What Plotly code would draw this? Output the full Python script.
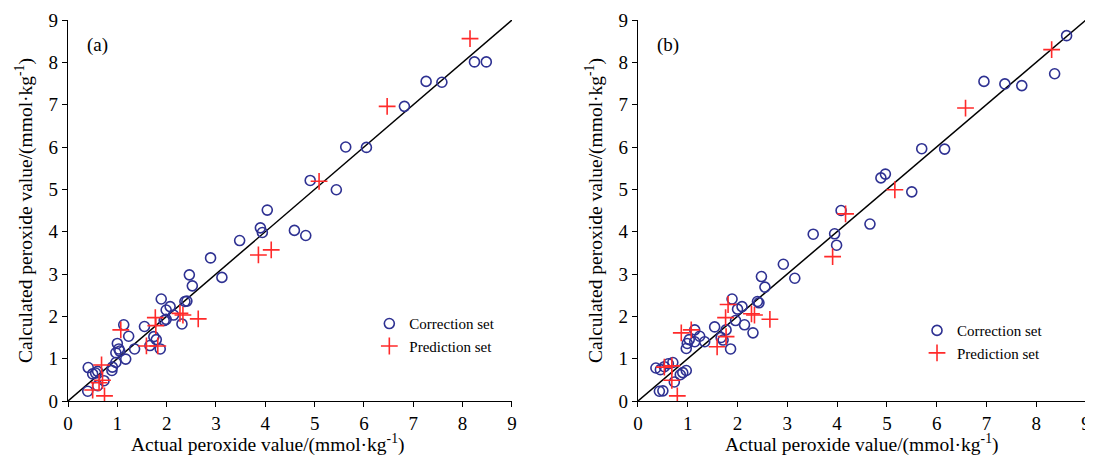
import plotly.graph_objects as go

# ---------------- Panel (a) ----------------
a_corr_x = [0.41, 0.50, 0.56, 0.60, 0.40, 0.60, 0.73, 0.89, 0.90, 0.97, 1.17, 0.97, 1.00, 1.03, 1.05,
            1.13, 1.23, 1.35, 1.55, 1.66, 1.74, 1.79, 1.87, 1.89, 1.99, 2.07, 1.95, 1.99, 2.14, 2.31,
            2.37, 2.41, 2.46, 2.52, 2.89, 3.12, 3.48, 3.90, 3.94, 4.04, 4.59, 4.82, 4.91, 5.44, 5.63,
            6.05, 6.82, 7.26, 7.58, 8.24, 8.48]
a_corr_y = [0.79, 0.64, 0.66, 0.70, 0.23, 0.36, 0.48, 0.72, 0.80, 0.91, 0.99, 1.14, 1.36, 1.23, 1.18,
            1.80, 1.53, 1.23, 1.76, 1.31, 1.52, 1.45, 1.23, 2.41, 2.15, 2.23, 1.90, 1.93, 2.03, 1.82,
            2.35, 2.36, 2.98, 2.72, 3.38, 2.92, 3.79, 4.09, 3.98, 4.51, 4.03, 3.91, 5.21, 4.99, 6.00,
            5.99, 6.96, 7.55, 7.53, 8.01, 8.01]
a_pred_x = [0.50, 0.63, 0.68, 0.70, 0.74, 1.07, 1.59, 1.77, 1.78, 1.82, 2.27, 2.33, 2.64, 3.86, 4.12,
            5.09, 6.47, 8.15]
a_pred_y = [0.26, 0.43, 0.85, 0.49, 0.12, 1.68, 1.30, 1.97, 1.78, 1.30, 2.07, 2.03, 1.94, 3.45, 3.57,
            5.19, 6.96, 8.56]

# ---------------- Panel (b) ----------------
b_corr_x = [0.36, 0.45, 0.53, 0.61, 0.70, 0.43, 0.50, 0.73, 0.85, 0.90, 0.97, 0.97, 0.99, 1.03, 1.14,
            1.14, 1.24, 1.34, 1.54, 1.67, 1.71, 1.77, 1.86, 1.89, 2.00, 2.09, 1.96, 2.14, 2.31, 2.40,
            2.43, 2.48, 2.55, 2.92, 3.15, 3.52, 3.95, 3.99, 4.08, 4.66, 4.88, 4.97, 5.50, 5.70, 6.16,
            6.95, 7.37, 7.71, 8.37, 8.61]
b_corr_y = [0.78, 0.74, 0.81, 0.88, 0.91, 0.23, 0.24, 0.45, 0.62, 0.67, 0.72, 1.24, 1.36, 1.45, 1.68,
            1.40, 1.53, 1.40, 1.75, 1.50, 1.44, 1.68, 1.23, 2.41, 2.17, 2.23, 1.90, 1.80, 1.61, 2.35,
            2.32, 2.94, 2.69, 3.23, 2.90, 3.94, 3.95, 3.68, 4.50, 4.18, 5.27, 5.36, 4.94, 5.96, 5.95,
            7.55, 7.49, 7.45, 7.73, 8.63]
b_pred_x = [0.53, 0.68, 0.68, 0.79, 0.87, 1.07, 1.59, 1.76, 1.77, 1.81, 2.28, 2.34, 2.65, 3.91, 4.17,
            5.16, 6.58, 8.31]
b_pred_y = [0.80, 0.83, 0.49, 0.12, 1.61, 1.68, 1.28, 1.97, 1.52, 2.28, 2.06, 2.03, 1.93, 3.41, 4.42,
            4.99, 6.92, 8.30]

diag = [0, 9]
tick_vals = list(range(0, 10))
tick_text = [str(v) for v in tick_vals]
panel_labels = ["(a)", "(b)"]
corr_name = "Correction set"
pred_name = "Prediction set"
x_title = "Actual peroxide value/(mmol·kg<sup>-1</sup>)"
y_title = "Calculated peroxide value/(mmol·kg<sup>-1</sup>)"

BLUE = "#2E3192"
RED = "#FF2A2A"
FONT = "Liberation Serif"

fig = go.Figure()

panels = [
    ("x", "y", "legend", a_corr_x, a_corr_y, a_pred_x, a_pred_y),
    ("x2", "y2", "legend2", b_corr_x, b_corr_y, b_pred_x, b_pred_y),
]
for xa, ya, lg, cx, cy, px, py in panels:
    fig.add_trace(go.Scatter(x=diag, y=diag, mode="lines", xaxis=xa, yaxis=ya,
                             line=dict(color="black", width=1.5), showlegend=False,
                             hoverinfo="skip"))
    fig.add_trace(go.Scatter(x=cx, y=cy, mode="markers", name=corr_name, xaxis=xa, yaxis=ya,
                             legend=lg,
                             marker=dict(symbol="circle-open", size=10, color=BLUE,
                                         line=dict(color=BLUE, width=1.6))))
    fig.add_trace(go.Scatter(x=px, y=py, mode="markers", name=pred_name, xaxis=xa, yaxis=ya,
                             legend=lg,
                             marker=dict(symbol="cross-thin-open", size=12, color=RED,
                                         line=dict(color=RED, width=1.6))))

axis_common = dict(range=[0, 9], tickmode="array", tickvals=tick_vals, ticktext=tick_text,
                   showgrid=False, zeroline=False, showline=True, linecolor="black",
                   linewidth=1.3, ticks="outside", ticklen=5, tickcolor="black", tickwidth=1.3,
                   automargin=False,
                   tickfont=dict(family=FONT, size=19, color="black"))

title_font = dict(family=FONT, size=19.5, color="black")

# the page body has an 8px margin, so the figure is sized/offset to fit the 1093x455 window
fig.update_layout(
    width=1085, height=447,
    margin=dict(l=60, r=7, t=12, b=54),
    paper_bgcolor="white", plot_bgcolor="white",
    font=dict(family=FONT, color="black"),
    xaxis=dict(domain=[0, 0.4361], anchor="y", **axis_common),
    yaxis=dict(domain=[0, 1], anchor="x",
               title=dict(text=y_title, font=title_font, standoff=10), **axis_common),
    xaxis2=dict(domain=[0.5599, 1], anchor="y2", **axis_common),
    yaxis2=dict(domain=[0, 1], anchor="x2",
                title=dict(text=y_title, font=title_font, standoff=10), **axis_common),
    legend=dict(x=0.296, y=0.246, xanchor="left", yanchor="top", bgcolor="rgba(0,0,0,0)",
                font=dict(family=FONT, size=15, color="black"), tracegroupgap=0),
    legend2=dict(x=0.834, y=0.228, xanchor="left", yanchor="top", bgcolor="rgba(0,0,0,0)",
                 font=dict(family=FONT, size=15, color="black"), tracegroupgap=0),
    annotations=[
        dict(text=panel_labels[0], x=0.6, y=8.42, xref="x", yref="y", showarrow=False,
             font=dict(family=FONT, size=19, color="black")),
        dict(text=panel_labels[1], x=0.6, y=8.42, xref="x2", yref="y2", showarrow=False,
             font=dict(family=FONT, size=19, color="black")),
        dict(text=x_title, x=0.196, y=-0.112, xref="paper", yref="paper", showarrow=False,
             xanchor="center", yanchor="middle", font=title_font),
        dict(text=x_title, x=0.779, y=-0.112, xref="paper", yref="paper", showarrow=False,
             xanchor="center", yanchor="middle", font=title_font),
    ],
)

fig.write_html("out.html")
